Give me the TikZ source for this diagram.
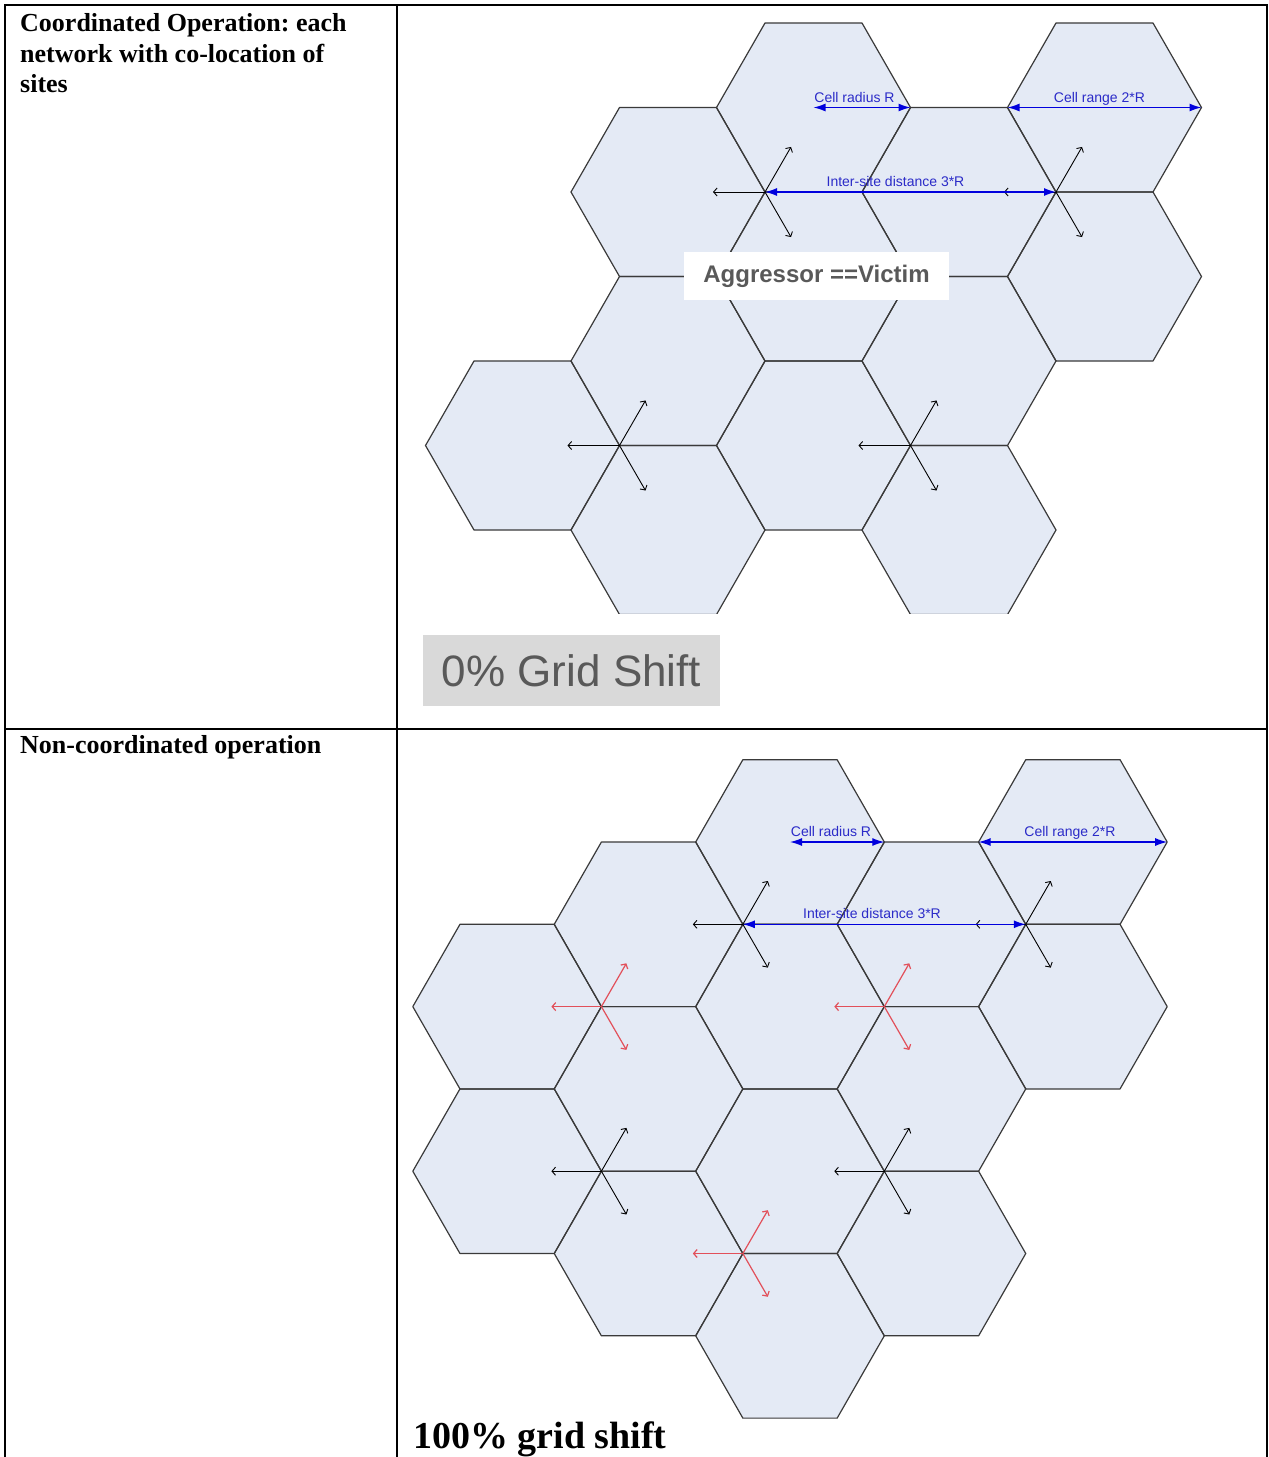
\documentclass[tikz,border=0pt]{standalone}
\usepackage{fontspec}
\setmainfont{Liberation Serif}
\setsansfont{Liberation Sans}
\usetikzlibrary{arrows.meta}
\frenchspacing

\definecolor{cellfill}{HTML}{E4EAF5}
\definecolor{celledge}{HTML}{3A3A3A}
\definecolor{dimblue}{HTML}{0000DD}
\definecolor{dimtext}{HTML}{2B2BC8}
\definecolor{shiftred}{HTML}{E2505A}
\definecolor{labelgrey}{HTML}{595959}
\definecolor{boxgrey}{HTML}{D9D9D9}

% flat-topped hexagon: centre (#1,#2), half width #3, half height #4
\newcommand{\hexfill}[4]{\fill[cellfill] ({#1+#3},{#2}) -- ({#1+0.5*#3},{#2+#4}) -- ({#1-0.5*#3},{#2+#4}) -- ({#1-#3},{#2}) -- ({#1-0.5*#3},{#2-#4}) -- ({#1+0.5*#3},{#2-#4}) -- cycle;}
\newcommand{\hexedge}[4]{\draw[celledgeline] ({#1+#3},{#2}) -- ({#1+0.5*#3},{#2+#4}) -- ({#1-0.5*#3},{#2+#4}) -- ({#1-#3},{#2}) -- ({#1-0.5*#3},{#2-#4}) -- ({#1+0.5*#3},{#2-#4}) -- cycle;}

% three-sector site: name, x, y, arrow length, style
\newcommand{\sitearrows}[5]{%
  \coordinate (#1) at (#2,#3);
  \coordinate (#1-w) at ({#2-#4},{#3});
  \coordinate (#1-ne) at ({#2+0.5*#4},{#3-0.866*#4});
  \coordinate (#1-se) at ({#2+0.5*#4},{#3+0.866*#4});
  \draw[sector,#5] (#1) -- (#1-w);
  \draw[sector,#5] (#1) -- (#1-ne);
  \draw[sector,#5] (#1) -- (#1-se);}

\tikzset{
  celledgeline/.style={draw=celledge, line width=1.2pt, line join=round},
  sector/.style={line width=0.9pt, -{Straight Barb[length=3.5pt,width=8pt]}},
  shifted/.style={shiftred, line width=1.2pt},
  dimarrow/.style={draw=dimblue, line width=1.3pt,
    {Latex[length=12pt,width=8pt]}-{Latex[length=12pt,width=8pt]}},
  dimlabel/.style={text=dimtext, font=\sffamily\fontsize{14}{14}\selectfont, inner sep=0pt, anchor=base},
  tablerule/.style={line width=2.5pt, black},
  headtext/.style={font=\bfseries\fontsize{26}{30.5}\selectfont, inner sep=0pt, align=left}
}

\begin{document}
\begin{tikzpicture}[x=1pt, y=-1pt]
\useasboundingbox (0,0) rectangle (1269,1457);
\fill[white] (0,0) rectangle (1269,1457);

% ---------- upper panel: co-located sites ----------
\begin{scope}
\clip (398,0) rectangle (1266,613.5);
\foreach \cx/\cy in {522.5/445.5, 668/192, 668/361, 668/530, 813.5/107.5, 813.5/276.5, 813.5/445.5,
                     959/192, 959/361, 959/530, 1104.5/107.5, 1104.5/276.5}
  {\hexfill{\cx}{\cy}{97}{84.5}}
\foreach \cx/\cy in {522.5/445.5, 668/192, 668/361, 668/530, 813.5/107.5, 813.5/276.5, 813.5/445.5,
                     959/192, 959/361, 959/530, 1104.5/107.5, 1104.5/276.5}
  {\hexedge{\cx}{\cy}{97}{84.5}}
\end{scope}

\sitearrows{sa}{765}{192}{52}{black}
\sitearrows{sb}{1056}{192}{52}{black}
\sitearrows{sc}{619.5}{445.5}{52}{black}
\sitearrows{sd}{910.5}{445.5}{52}{black}

\coordinate (ua) at (813.5,107.5);
\coordinate (ub) at (910.5,107.5);
\coordinate (uc) at (1007.5,107.5);
\coordinate (ud) at (1201.5,107.5);
\draw[dimarrow] (ua) -- (ub);
\draw[dimarrow] (uc) -- (ud);
\draw[dimarrow] (sa) -- (sb);
\node[dimlabel] (uradius) at (854.5,102) {Cell radius R};
\node[dimlabel] (urange) at (1099.5,102) {Cell range 2*R};
\node[dimlabel] (uisd) at (895.5,186) {Inter-site distance 3*R};

\node[fill=white, minimum width=265pt, minimum height=48pt, inner sep=0pt,
      text=labelgrey, font=\sffamily\bfseries\fontsize{24}{24}\selectfont] (aggr) at (816.5,276) {Aggressor ==Victim};

\node[fill=boxgrey, minimum width=297pt, minimum height=71pt, inner sep=0pt,
      text=labelgrey, font=\sffamily\fontsize{44}{44}\selectfont] (zeroshift) at (571.5,670.5) {0\% Grid Shift};

% ---------- lower panel: shifted grid ----------
\foreach \cx/\cy in {507.1/1006.6, 507.1/1171.2, 648.55/924.3, 648.55/1088.9, 648.55/1253.5,
                     790/842, 790/1006.6, 790/1171.2, 790/1335.8, 931.45/924.3, 931.45/1088.9,
                     931.45/1253.5, 1072.9/842, 1072.9/1006.6}
  {\hexfill{\cx}{\cy}{94.3}{82.3}}
\foreach \cx/\cy in {507.1/1006.6, 507.1/1171.2, 648.55/924.3, 648.55/1088.9, 648.55/1253.5,
                     790/842, 790/1006.6, 790/1171.2, 790/1335.8, 931.45/924.3, 931.45/1088.9,
                     931.45/1253.5, 1072.9/842, 1072.9/1006.6}
  {\hexedge{\cx}{\cy}{94.3}{82.3}}

\sitearrows{la}{742.85}{924.3}{50}{black}
\sitearrows{lb}{1025.75}{924.3}{50}{black}
\sitearrows{lc}{601.4}{1171.2}{50}{black}
\sitearrows{ld}{884.3}{1171.2}{50}{black}
\sitearrows{ra}{601.4}{1006.6}{50}{shifted}
\sitearrows{rb}{884.3}{1006.6}{50}{shifted}
\sitearrows{rc}{742.85}{1253.5}{50}{shifted}

\coordinate (da) at (790,842);
\coordinate (db) at (884.3,842);
\coordinate (dc) at (978.6,842);
\coordinate (dd) at (1167.2,842);
\draw[dimarrow] (da) -- (db);
\draw[dimarrow] (dc) -- (dd);
\draw[dimarrow] (la) -- (lb);
\node[dimlabel] (dradius) at (831,836.5) {Cell radius R};
\node[dimlabel] (drange) at (1070,836.5) {Cell range 2*R};
\node[dimlabel] (disd) at (872,918) {Inter-site distance 3*R};

% ---------- table frame and row captions ----------
\draw[tablerule] (5,1462) -- (5,5) -- (1267,5) -- (1267,1462);
\draw[tablerule] (5,729) -- (1267,729);
\draw[tablerule] (397,5) -- (397,1462);

\node[headtext, anchor=north west] (coordhead) at (20,13.5)
  {Coordinated Operation: each\\network with co-location of\\sites};
\node[headtext, anchor=base west] (noncoordhead) at (20,753) {Non-coordinated operation};
\node[font=\bfseries\fontsize{38}{38}\selectfont, inner sep=0pt, anchor=base west] (fullshift)
  at (413,1448) {100\% grid shift};
\end{tikzpicture}
\end{document}
